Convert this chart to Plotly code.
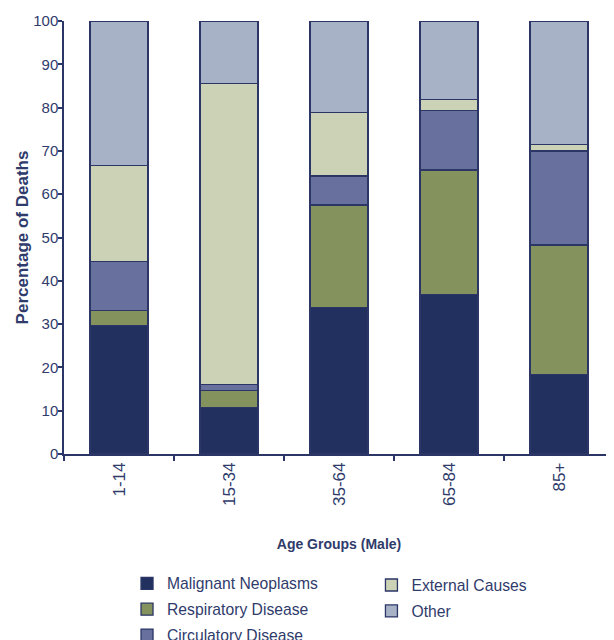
import plotly.graph_objects as go

age_groups = ["1-14", "15-34", "35-64", "65-84", "85+"]
malignant_neoplasms = [29.7, 10.8, 33.8, 36.8, 18.3]
respiratory_disease = [3.4, 3.8, 23.7, 28.8, 30.0]
circulatory_disease = [11.3, 1.4, 6.7, 13.7, 21.7]
external_causes = [22.2, 69.6, 14.7, 2.6, 1.5]
other = [33.4, 14.4, 21.1, 18.1, 28.5]

series = [
    ("Malignant Neoplasms", malignant_neoplasms, "#21305E", "legend"),
    ("Respiratory Disease", respiratory_disease, "#84935D", "legend"),
    ("Circulatory Disease", circulatory_disease, "#68709E", "legend"),
    ("External Causes", external_causes, "#CBD2B5", "legend2"),
    ("Other", other, "#A8B2C6", "legend2"),
]

NAVY = "#2B3566"
TEXT = "#2F3B6B"
FONT = "Liberation Sans, Arial, sans-serif"

fig = go.Figure()
for name, vals, col, lg in series:
    fig.add_trace(go.Bar(
        x=age_groups, y=vals, name=name,
        marker=dict(color=col, line=dict(color=NAVY, width=1.3)),
        legend=lg, legendgroup=name,
    ))

fig.update_layout(
    width=606, height=632,
    barmode="stack", bargap=0.473,
    plot_bgcolor="white", paper_bgcolor="white",
    margin=dict(l=56, r=0, t=13, b=186, autoexpand=False),
    font=dict(family=FONT, color=TEXT, size=15),
    legend=dict(x=0.1146, y=-0.26, xanchor="left", yanchor="top",
                traceorder="grouped", tracegroupgap=2.5,
                font=dict(size=15.7, color=TEXT), bgcolor="rgba(0,0,0,0)"),
    legend2=dict(x=0.559, y=-0.264, xanchor="left", yanchor="top",
                 traceorder="grouped", tracegroupgap=2.5,
                 font=dict(size=15.7, color=TEXT), bgcolor="rgba(0,0,0,0)"),
    xaxis=dict(
        automargin=False,
        showline=True, linecolor=NAVY, linewidth=1.5,
        ticks="outside", ticklen=5, tickcolor=NAVY, tickwidth=1.5,
        tickson="boundaries", tickangle=-90,
        tickfont=dict(size=17, color=TEXT),
        showgrid=False,
        title=dict(text="<b>Age Groups (Male)</b>", font=dict(size=14, color=TEXT), standoff=34),
    ),
    yaxis=dict(
        automargin=False,
        range=[0, 100], dtick=10,
        showline=True, linecolor=NAVY, linewidth=1.5,
        ticks="outside", ticklen=4, tickcolor=NAVY, tickwidth=1.5,
        ticklabelstandoff=-3,
        tickfont=dict(size=15, color=TEXT),
        showgrid=False, zeroline=False,
        title=dict(text="<b>Percentage of Deaths</b>", font=dict(size=17, color=TEXT), standoff=0),
    ),
)

fig.write_html("out.html")
